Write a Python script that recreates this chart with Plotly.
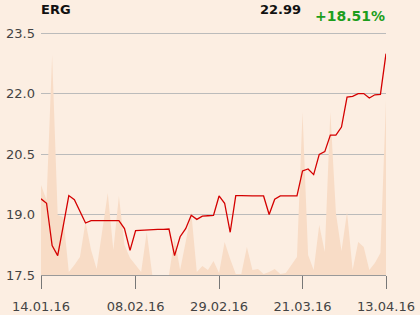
import plotly.graph_objects as go

# Trading-day index positions and x tick labels
tick_idx = [0, 17, 32, 47, 62]
tick_labels = ["14.01.16", "08.02.16", "29.02.16", "21.03.16", "13.04.16"]

# Closing prices (EUR), one per trading day
price = [19.39, 19.28, 18.23, 17.98, 18.72, 19.47, 19.37, 19.08, 18.79, 18.85,
         18.85, 18.85, 18.85, 18.85, 18.85, 18.65, 18.11, 18.60, 18.61, 18.62,
         18.62, 18.63, 18.63, 18.64, 17.98, 18.45, 18.65, 18.98, 18.88, 18.96,
         18.97, 18.98, 19.46, 19.28, 18.56, 19.47, 19.47, 19.46, 19.46, 19.46,
         19.46, 19.00, 19.38, 19.46, 19.46, 19.46, 19.46, 20.08, 20.13, 19.99,
         20.49, 20.56, 20.97, 20.97, 21.17, 21.91, 21.93, 22.00, 22.00, 21.89,
         21.97, 21.98, 22.99]

# Traded volume (thousands, estimated)
volume = [90, 75, 220, 60, 58, 3, 10, 18, 53, 25,
          6, 45, 82, 25, 79, 30, 17, 10, 3, 43,
          0, 0, 0, 0, 37, 5, 33, 63, 3, 9,
          5, 14, 2, 33, 16, 1, 1, 28, 5, 6,
          1, 3, 6, 1, 2, 10, 18, 163, 20, 5,
          50, 23, 163, 62, 24, 63, 5, 33, 28, 5,
          12, 22, 175]

y_ticks = [17.5, 19.0, 20.5, 22.0, 23.5]

name = "ERG"
last_price = "22.99"
change = "+18.51%"

x = list(range(len(price)))

bg = "#FCEEE2"
font = "DejaVu Sans"

fig = go.Figure()
fig.add_trace(go.Scatter(
    x=x, y=volume, yaxis="y", mode="lines", fill="tozeroy",
    line=dict(color="#F8DCC6", width=0), fillcolor="#F8DCC6",
    hoverinfo="skip", showlegend=False))
fig.add_trace(go.Scatter(
    x=x, y=price, yaxis="y2", mode="lines",
    line=dict(color="#D40000", width=1.3), showlegend=False))

fig.update_layout(
    width=420, height=315,
    margin=dict(l=41, r=34, t=23, b=40, autoexpand=False),
    paper_bgcolor=bg, plot_bgcolor=bg,
    font=dict(family=font, size=13, color="#444444"),
    xaxis=dict(range=[0, 62], tickvals=tick_idx, ticktext=tick_labels,
               showgrid=False, zeroline=False, showline=True,
               linecolor="#999999", linewidth=1, ticks="outside",
               ticklen=13, tickcolor="#777777", tickwidth=1,
               automargin=False, ticklabelstandoff=6,
               tickfont=dict(size=13, color="#444444")),
    yaxis=dict(range=[0, 252], visible=False, showgrid=False,
               automargin=False),
    yaxis2=dict(range=[17.5, 23.75], tickvals=y_ticks, overlaying="y",
                side="left",
                ticktext=[f"{v:.1f}" for v in y_ticks],
                showgrid=True, gridcolor="#BBBBBB", gridwidth=1,
                zeroline=False, showline=False, ticks="",
                automargin=False, ticklabelstandoff=5,
                tickfont=dict(size=13, color="#444444")),
    annotations=[
        dict(text=f"<b>{name}</b>", xref="paper", yref="paper",
             x=-0.005, y=1.0516, xanchor="left", yanchor="middle",
             showarrow=False, font=dict(size=13, color="#111111")),
        dict(text=f"<b>{last_price}</b>", xref="paper", yref="paper",
             x=0.7595, y=1.0536, xanchor="right", yanchor="middle",
             showarrow=False, font=dict(size=13, color="#111111")),
        dict(text=f"<b>{change}</b>", xref="paper", yref="paper",
             x=1.003, y=1.0278, xanchor="right", yanchor="middle",
             showarrow=False, font=dict(size=14, color="#1C9E1C")),
    ],
)

fig.write_html("out.html")
